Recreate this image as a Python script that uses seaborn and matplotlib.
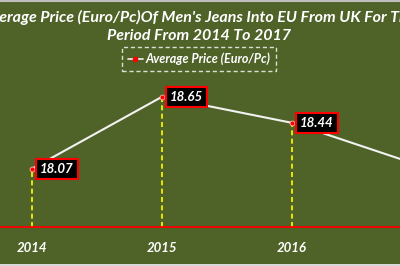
import matplotlib
matplotlib.use("Agg")
import matplotlib.pyplot as plt
from matplotlib.lines import Line2D
from matplotlib.patches import Rectangle
import seaborn as sns
import pandas as pd

years = ["2014", "2015", "2016", "2017"]
prices = [18.07, 18.65, 18.44, 18.09]
series_name = "Average Price (Euro/Pc)"
title_lines = ["Average Price (Euro/Pc)Of Men's Jeans Into EU From UK For The",
               "Period From 2014 To 2017"]

BG = "#4F6228"
sns.set_theme(style="white")
plt.rcParams["font.family"] = ["Lato", "DejaVu Sans"]

df = pd.DataFrame({"pos": list(range(len(years))), "price": prices})

W, H = 400, 266
fig = plt.figure(figsize=(W / 100, H / 100), dpi=100, facecolor=BG)

# axes geometry in pixels (chart extends beyond the visible canvas on the right)
left_px, right_px = -33, 487
bottom_px, top_px = 227, 80
ax = fig.add_axes([left_px / W, (H - bottom_px) / H,
                   (right_px - left_px) / W, (bottom_px - top_px) / H])
ax.set_facecolor(BG)
ymin = 17.6
ymax = ymin + (bottom_px - top_px) / 124.0
ax.set_xlim(-0.5, 3.5)
ax.set_ylim(ymin, ymax)

# drop lines
ax.vlines(df["pos"], ymin, df["price"], colors="#FFFF00", linestyles=(0, (3, 2)),
          linewidth=1.2, zorder=2)

sns.lineplot(data=df, x="pos", y="price", ax=ax, color="#F2F2F2", linewidth=1.5,
             marker="o", markersize=3.5, markerfacecolor="#FF0000",
             markeredgecolor="#FFB0B0", markeredgewidth=0.6, zorder=3, legend=False)

for x, v in zip(df["pos"], df["price"]):
    ax.annotate(f"{v:.2f}", xy=(x, v), xytext=(8, 0), textcoords="offset pixels",
                ha="left", va="center", color="white", fontsize=9.5,
                fontweight="bold", fontstyle="italic", zorder=5,
                bbox=dict(boxstyle="square,pad=0.3", facecolor="black",
                          edgecolor="#FF0000", linewidth=1.5))

for s in ["left", "right", "top"]:
    ax.spines[s].set_visible(False)
ax.spines["bottom"].set_color("#FF0000")
ax.spines["bottom"].set_linewidth(1.3)
ax.set_yticks([])
ax.set_xticks(df["pos"])
ax.set_xticklabels(years, color="white", fontsize=9.5, fontweight="bold",
                   fontstyle="italic")
ax.tick_params(axis="x", length=0, pad=11)
ax.set_xlabel("")
ax.set_ylabel("")

# title
fig.text(199 / W, 1 - 17 / H, title_lines[0], ha="center", va="center",
         color="white", fontsize=11.5, fontweight="bold", fontstyle="italic")
fig.text(199 / W, 1 - 36 / H, title_lines[1], ha="center", va="center",
         color="white", fontsize=11.5, fontweight="bold", fontstyle="italic")

# legend
handle = Line2D([], [], color="#F2F2F2", linewidth=1.2, marker="o", markersize=3,
                markerfacecolor="#FF0000", markeredgecolor="#FF0000")
leg = fig.legend([handle], [series_name], loc="center",
                 bbox_to_anchor=(199 / W, 1 - 59 / H), frameon=True,
                 handlelength=1.2, handletextpad=0.2, borderpad=0.45,
                 prop=dict(family=["Lato", "DejaVu Sans"], size=9,
                           weight="bold", style="italic"))
for t in leg.get_texts():
    t.set_color("white")
fr = leg.get_frame()
fr.set_facecolor("none")
fr.set_edgecolor("white")
fr.set_linestyle((0, (3, 2)))
fr.set_linewidth(1.0)
fr.set_boxstyle("square,pad=0")

# chart border lines
fig.add_artist(Line2D([0, 1], [1 - 0.5 / H, 1 - 0.5 / H], color="#BFBFBF",
                      linewidth=1.5, transform=fig.transFigure))
fig.add_artist(Rectangle((0, 0), 1, 2.5 / H, transform=fig.transFigure,
                         facecolor="#D9D9D9", edgecolor="none"))

fig.savefig("out.png", dpi=100, facecolor=BG)
